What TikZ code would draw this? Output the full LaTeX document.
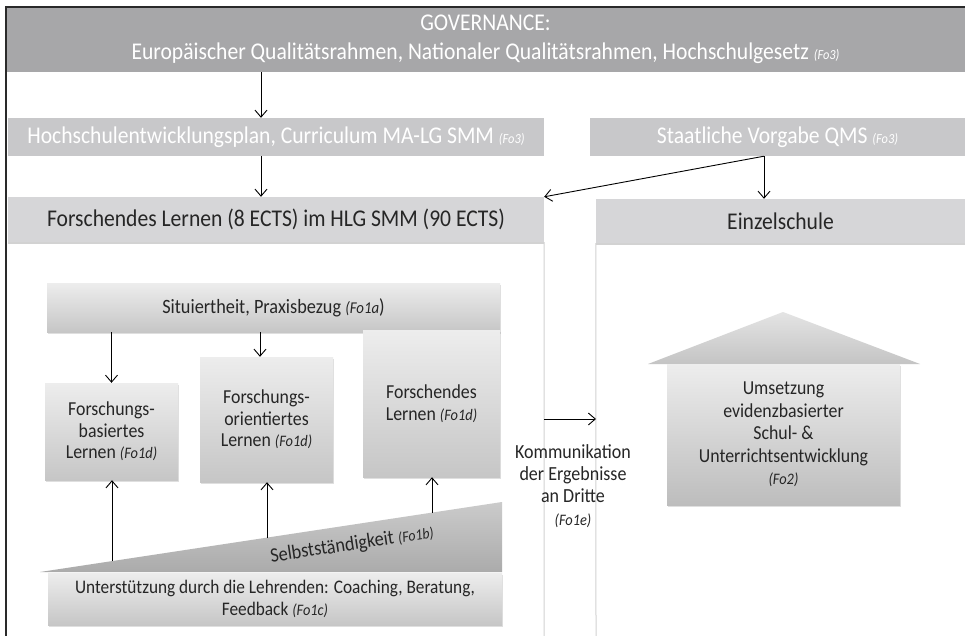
\documentclass[tikz,border=0pt]{standalone}
\usepackage{fontspec}
\setmainfont{Carlito}[FakeStretch=0.9]
\usetikzlibrary{arrows.meta,shadows}

\definecolor{govgray}{HTML}{A7A7A9}
\definecolor{plangray}{HTML}{C8C8CA}
\definecolor{headgray}{HTML}{D6D6D8}
\definecolor{ink}{HTML}{262626}
\definecolor{frameink}{HTML}{2A2A2A}
\definecolor{paneline}{HTML}{D2D2D2}
\definecolor{boxtop}{HTML}{EDEDED}
\definecolor{boxbot}{HTML}{C6C6C6}
\definecolor{housebot}{HTML}{BDBDBD}
\definecolor{rooftop}{HTML}{E4E4E4}
\definecolor{roofbot}{HTML}{C4C4C4}
\definecolor{wedgetop}{HTML}{CBCBCB}
\definecolor{wedgebot}{HTML}{ABABAB}

% small italic source tags
\newcommand\tagsm[1]{{\itshape\fontsize{13.8}{15}\selectfont(#1)}}
\newcommand\tagmd[1]{{\itshape\fontsize{16}{18}\selectfont(#1)}}

\tikzset{
  arr/.style={draw=black, line width=0.9pt,
    -{Straight Barb[length=7pt,width=12pt,line width=0.9pt]}},
  band/.style={rectangle, inner sep=0pt, align=center},
  bigfont/.style={font=\fontsize{24}{28.5}\selectfont},
  govbox/.style={band, fill=govgray, text=white, bigfont},
  planbox/.style={band, fill=plangray, text=white, bigfont},
  headbox/.style={band, fill=headgray, text=ink, bigfont,
    drop shadow={opacity=0.35, shadow xshift=0pt, shadow yshift=-1.5pt}},
  gbox/.style={band, top color=boxtop, bottom color=boxbot, text=ink,
    drop shadow={opacity=0.25, shadow xshift=1pt, shadow yshift=-1.5pt}},
  midfont/.style={font=\fontsize{19.8}{21.7}\selectfont},
  panel/.style={draw=paneline, line width=1pt},
}

\begin{document}
\begin{tikzpicture}[x=1pt,y=-1pt]
\useasboundingbox (0,0) rectangle (965,636);
\fill[white] (0,0) rectangle (965,636);

% --- top level: governance and planning bands
\node[govbox, minimum width=959pt, minimum height=65pt] (gov) at (485.5,39.5)
  {GOVERNANCE:\\Europäischer Qualitätsrahmen, Nationaler Qualitätsrahmen, Hochschulgesetz \tagsm{Fo3}};
\node[planbox, minimum width=536pt, minimum height=38pt] (hoch) at (276,137)
  {Hochschulentwicklungsplan, Curriculum MA-LG SMM \tagsm{Fo3}};
\node[planbox, minimum width=375pt, minimum height=38pt] (staat) at (777.5,137)
  {Staatliche Vorgabe QMS \tagsm{Fo3}};

% --- the two columns
\coordinate (fbot) at (544,636);
\coordinate (ebot) at (596,636);
\node[headbox, minimum width=536pt, minimum height=45pt] (forsch) at (276,219.5)
  {Forschendes Lernen (8 ECTS) im HLG SMM (90 ECTS)};
\node[headbox, minimum width=369pt, minimum height=44pt] (einzel) at (780.5,221)
  {Einzelschule};
\draw[panel] (forsch.south east) -- (fbot);
\draw[panel] (einzel.south west) -- (ebot);

% --- outer frame
\draw[frameink, line width=2pt] (6,636) -- (6,7) -- (965,7);

% --- connectors between the bands
\coordinate (xa) at (261,0);
\coordinate (xq) at (764,0);
\draw[arr] (gov.south -| xa) -- (hoch.north -| xa);
\draw[arr] (hoch.south -| xa) -- (forsch.north -| xa);
\draw[arr] (staat.south -| xq) -- (einzel.north -| xq);
\draw[arr] (staat.south -| xq) -- (forsch.north east);

% --- inside the research-learning column
\node[gbox, minimum width=453pt, minimum height=49pt,
  font=\fontsize{20.3}{22}\selectfont] (situ) at (273.5,307.5)
  {Situiertheit, Praxisbezug {\itshape\fontsize{16.5}{18}\selectfont(Fo1a})};
\node[gbox, midfont, minimum width=133pt, minimum height=97pt] (b1) at (111.5,431.5)
  {Forschungs-\\basiertes\\Lernen \tagmd{Fo1d}};
\node[gbox, midfont, minimum width=133pt, minimum height=125pt] (b2) at (266.5,419.5)
  {Forschungs-\\orientiertes\\Lernen \tagmd{Fo1d}};
\node[gbox, midfont, minimum width=137pt, minimum height=147pt] (b3) at (431.5,403.5)
  {Forschendes\\Lernen \tagmd{Fo1d}};

\coordinate (xb) at (260,0);
\draw[arr] (situ.south -| b1) -- (b1.north);
\draw[arr] (situ.south -| xb) -- (b2.north -| xb);

% support band and the rising wedge of independence
\node[gbox, minimum width=454pt, minimum height=52pt,
  font=\fontsize{19.2}{22}\selectfont] (unter) at (275,599)
  {Unterstützung durch die Lehrenden: Coaching, Beratung,\\Feedback \tagmd{Fo1c}};
\coordinate (wl) at (40,572);
\coordinate (wt) at (502,502);
\coordinate (wb) at (502,572);
\shade[top color=wedgetop, bottom color=wedgebot] (wl) -- (wt) -- (wb) -- cycle;
\node[rotate=8.6, text=ink, font=\fontsize{20.3}{22}\selectfont, inner sep=0pt] (selb)
  at (352,545) {Selbstständigkeit {\itshape\fontsize{15.4}{17}\selectfont(Fo1b)}};

\coordinate (w1) at (112,561);
\coordinate (w2) at (267,538);
\coordinate (w3) at (432,512.5);
\draw[arr] (w1) -- (b1.south -| w1);
\draw[arr] (w2) -- (b2.south -| w2);
\draw[arr] (w3) -- (b3.south -| w3);

% --- communication between the columns
\coordinate (ka) at (544,419);
\coordinate (kb) at (596,419);
\draw[arr] (ka) -- (kb);
\node[align=center, text=ink, font=\fontsize{20}{22.3}\selectfont, inner sep=0pt] (komm)
  at (573,486) {Kommunikation\\der Ergebnisse\\an Dritte\\\tagmd{Fo1e}};

% --- school column: the house
\coordinate (rl) at (648,364);
\coordinate (rt) at (783,312);
\coordinate (rr) at (920,364);
\shade[top color=rooftop, bottom color=roofbot] (rl) -- (rt) -- (rr) -- cycle;
\node[gbox, bottom color=housebot, font=\fontsize{19.8}{22.5}\selectfont,
  minimum width=233pt, minimum height=141pt] (haus) at (783.5,434.5)
  {Umsetzung\\evidenzbasierter\\Schul- \&\\Unterrichtsentwicklung\\\tagmd{Fo2}};
\end{tikzpicture}
\end{document}
